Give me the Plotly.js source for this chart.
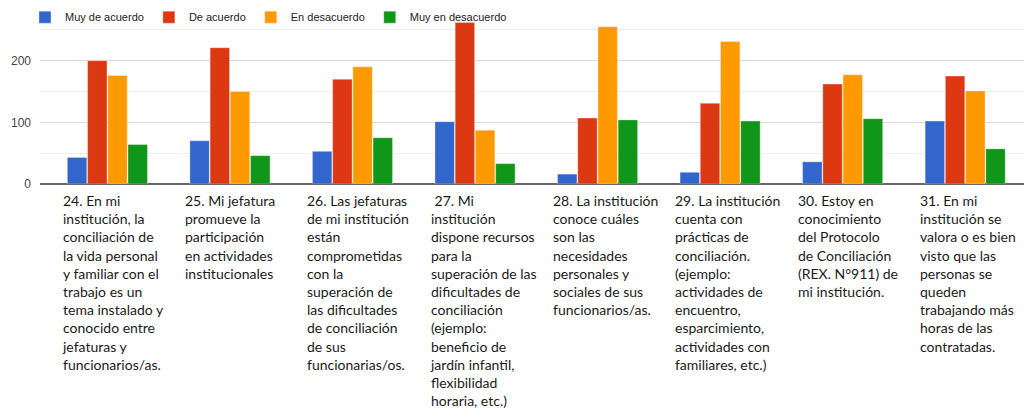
<!DOCTYPE html>
<html>
<head>
<meta charset="utf-8">
<script src="https://cdn.plot.ly/plotly-3.0.1.min.js"></script>
<style>
  html, body { margin: 0; padding: 0; background: #fff; }
  #chart { width: 1024px; height: 409px; }
</style>
</head>
<body>
<div id="chart"></div>
<script>
// questions (x categories) and answer counts
var preguntas = ['P24', 'P25', 'P26', 'P27', 'P28', 'P29', 'P30', 'P31'];

var muyDeAcuerdo      = [43, 70, 53, 101, 16, 19, 36, 102];
var deAcuerdo         = [200, 221, 170, 262, 107, 131, 162, 175];
var enDesacuerdo      = [176, 150, 190, 87, 255, 231, 177, 151];
var muyEnDesacuerdo   = [64, 46, 75, 33, 104, 102, 106, 57];

// question texts drawn under the axis, one line per entry
var etiquetas = [
  ['24. En mi', 'institución, la', 'conciliación de', 'la vida personal', 'y familiar con el', 'trabajo es un', 'tema instalado y', 'conocido entre', 'jefaturas y', 'funcionarios/as.'],
  ['25. Mi jefatura', 'promueve la', 'participación', 'en actividades', 'institucionales'],
  ['26. Las jefaturas', 'de mi institución', 'están', 'comprometidas', 'con la', 'superación de', 'las dificultades', 'de conciliación', 'de sus', 'funcionarias/os.'],
  ['\u00a027. Mi', 'institución', 'dispone recursos', 'para la', 'superación de las', 'dificultades de', 'conciliación', '(ejemplo:', 'beneficio de', 'jardín infantil,', 'flexibilidad', 'horaria, etc.)'],
  ['28. La institución', 'conoce cuáles', 'son las', 'necesidades', 'personales y', 'sociales de sus', 'funcionarios/as.'],
  ['29. La institución', 'cuenta con', 'prácticas de', 'conciliación.', '(ejemplo:', 'actividades de', 'encuentro,', 'esparcimiento,', 'actividades con', 'familiares, etc.)'],
  ['30. Estoy en', 'conocimiento', 'del Protocolo', 'de Conciliación', '(REX. N°911) de', 'mi institución.'],
  ['31. En mi', 'institución se', 'valora o es bien', 'visto que las', 'personas se', 'queden', 'trabajando más', 'horas de las', 'contratadas.']
];

var colores = ['#3366cc', '#dc3912', '#ff9900', '#109618'];
var nombres = ['Muy de acuerdo', 'De acuerdo', 'En desacuerdo', 'Muy en desacuerdo'];
var series = [muyDeAcuerdo, deAcuerdo, enDesacuerdo, muyEnDesacuerdo];

var data = [];
for (var i = 0; i < series.length; i++) {
  data.push({
    type: 'bar',
    name: nombres[i],
    x: preguntas,
    y: series[i],
    marker: { color: colores[i], line: { color: 'rgba(255,255,255,0.6)', width: 0.5 } },
    hoverinfo: 'name+y'
  });
}

var annotations = [];
for (var j = 0; j < etiquetas.length; j++) {
  annotations.push({
    xref: 'x', yref: 'paper',
    x: preguntas[j], y: 0,
    xanchor: 'left', yanchor: 'top',
    xshift: -47, yshift: -6,
    align: 'left',
    showarrow: false,
    text: etiquetas[j].join('<br>'),
    font: { family: 'Lato, Carlito, sans-serif', size: 14, color: '#1a1a1a' }
  });
}

var layout = {
  width: 1024,
  height: 409,
  margin: { l: 40, r: 0, t: 20, b: 225, autoexpand: false },
  paper_bgcolor: '#fff',
  plot_bgcolor: '#fff',
  barmode: 'group',
  bargap: 0.34,
  bargroupgap: 0.04,
  showlegend: true,
  legend: {
    orientation: 'h',
    xref: 'container', yref: 'container',
    x: 0.0244, y: 0.958,
    xanchor: 'left', yanchor: 'middle',
    bgcolor: 'rgba(0,0,0,0)',
    font: { family: 'Liberation Sans, Arial, sans-serif', size: 11, color: '#222' },
    itemclick: false
  },
  xaxis: {
    type: 'category',
    range: [-0.55, 7.48],
    showticklabels: false,
    showgrid: false,
    zeroline: false,
    fixedrange: true
  },
  yaxis: {
    range: [0, 266],
    dtick: 100,
    showgrid: true,
    gridcolor: '#d9d9d9',
    gridwidth: 1,
    minor: { dtick: 50, showgrid: true, gridcolor: '#efefef', gridwidth: 1 },
    zeroline: true,
    zerolinecolor: '#666',
    zerolinewidth: 2,
    ticks: '',
    ticklabelstandoff: 8,
    tickfont: { family: 'Liberation Sans, Arial, sans-serif', size: 12, color: '#444' },
    fixedrange: true
  },
  annotations: annotations
};

Plotly.newPlot('chart', data, layout, { displayModeBar: false });
</script>
</body>
</html>
